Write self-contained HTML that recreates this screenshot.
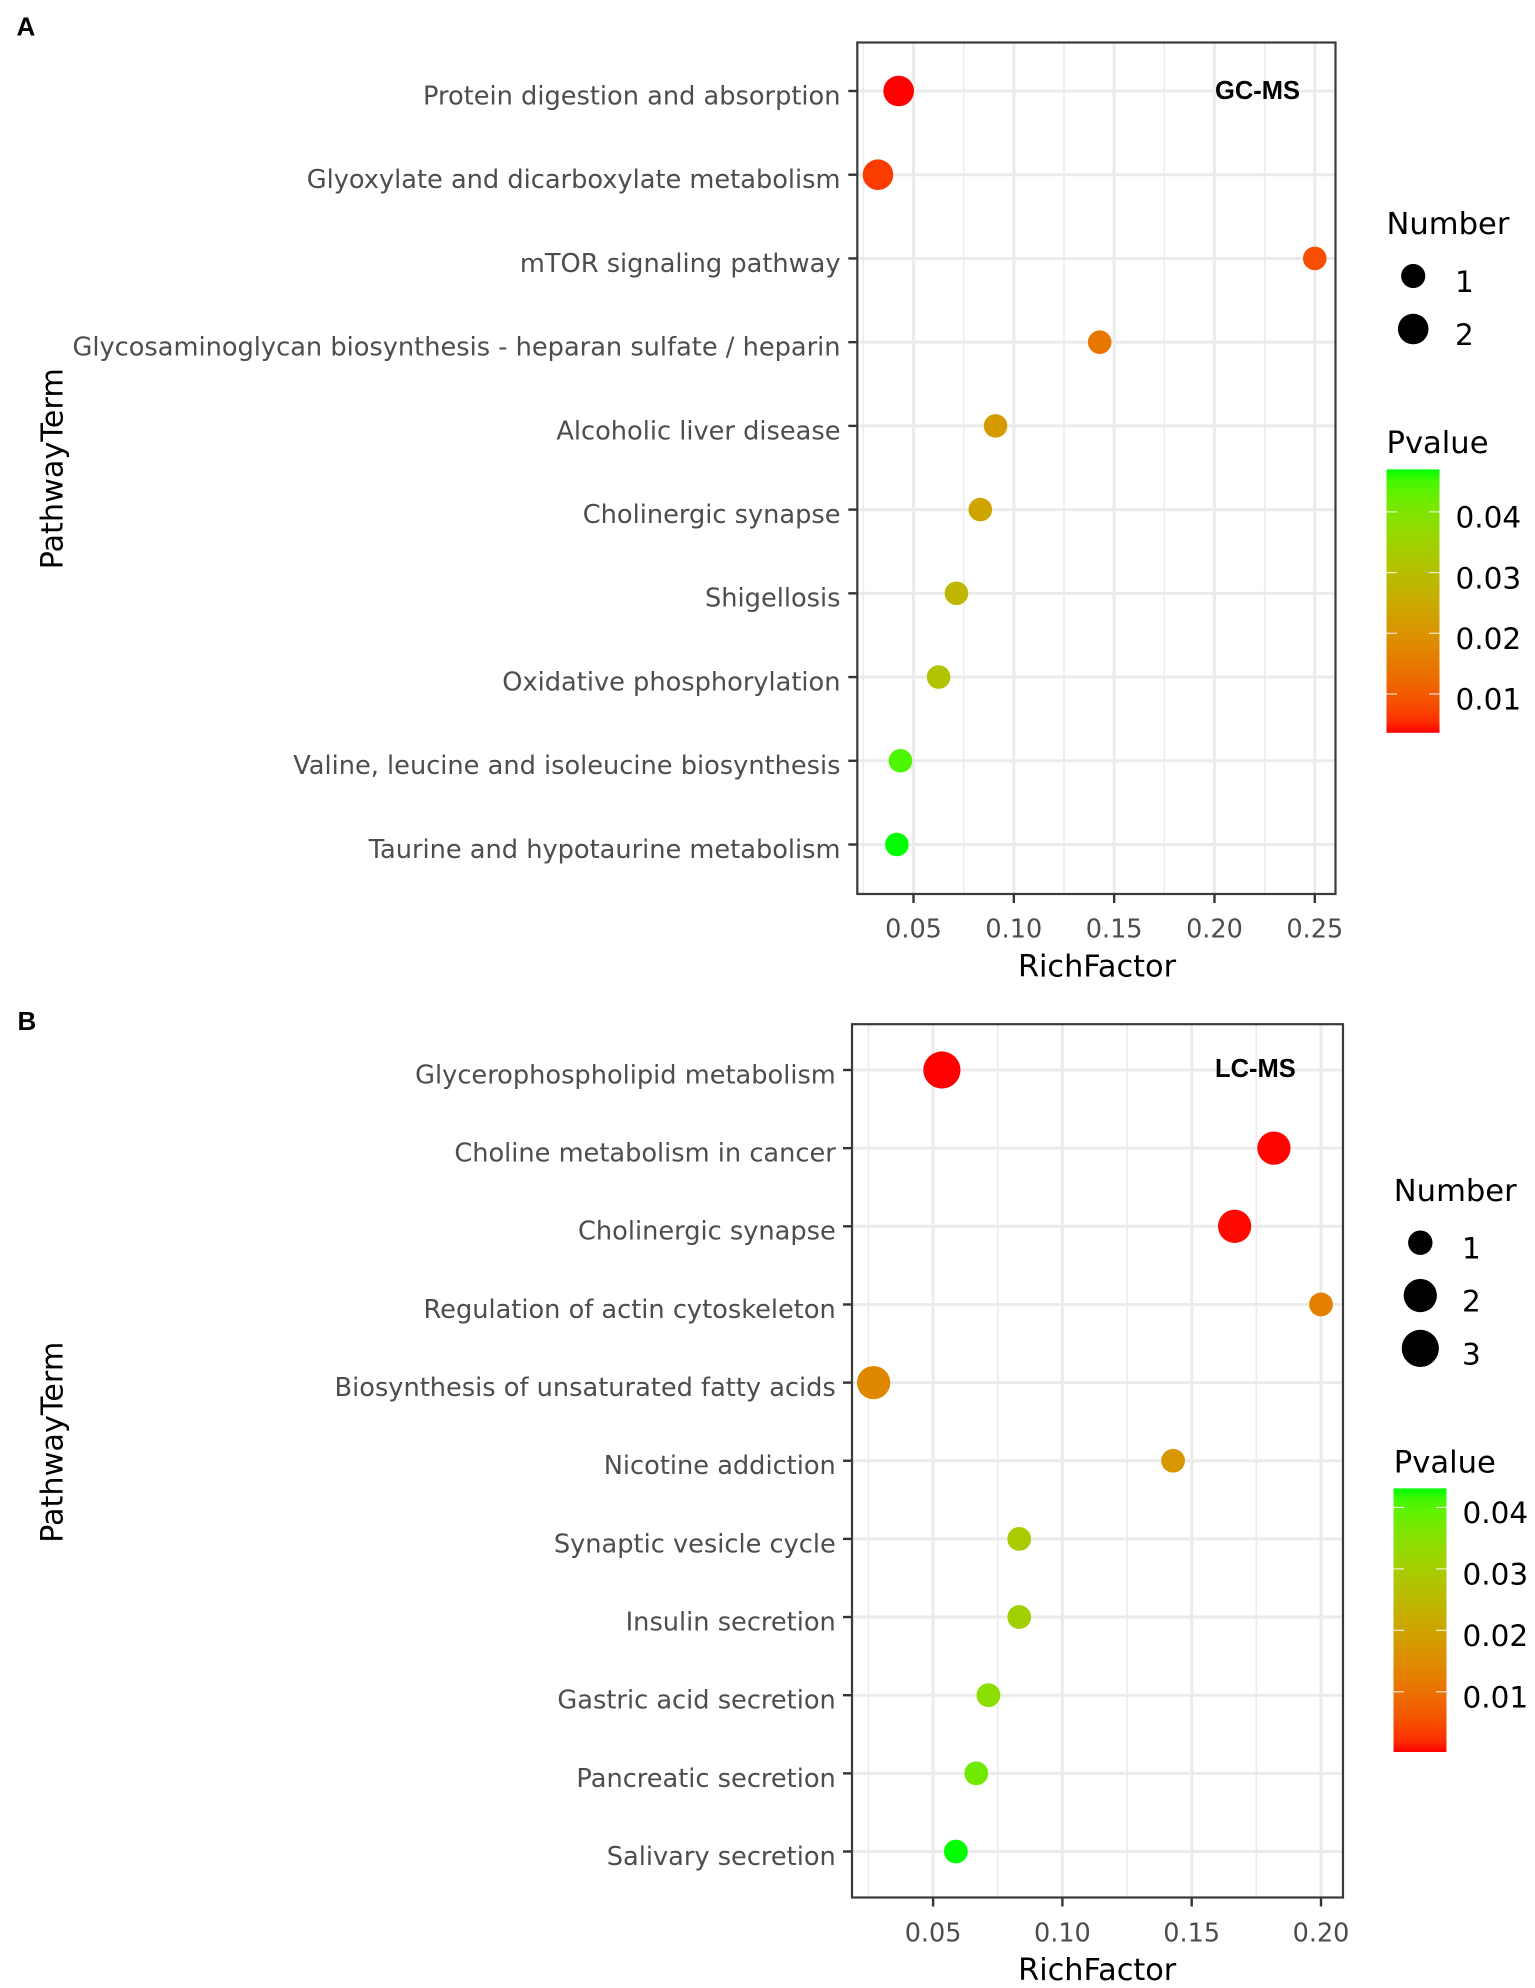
<!DOCTYPE html>
<html lang="en">
<head>
<meta charset="utf-8">
<title>Pathway enrichment bubble charts: GC-MS and LC-MS</title>
<style>
html,body{margin:0;padding:0;background:#fff;}
svg{display:block;}
text{font-family:"DejaVu Sans","Liberation Sans",sans-serif;}
.panel-letter,.method{font-family:"Liberation Sans",sans-serif;font-weight:bold;fill:#000;}
.axis-title,.legend-title{font-size:30.3px;fill:#000;}
.legend-title{font-size:30.6px;}
.legend-label{font-size:29.5px;fill:#000;}
.tick-x{font-size:25.5px;fill:#4d4d4d;text-anchor:middle;}
.tick-y{font-size:25.65px;fill:#4d4d4d;text-anchor:end;}
</style>
</head>
<body>
<svg id="figure" xmlns="http://www.w3.org/2000/svg" width="1535" height="1988" viewBox="0 0 1535 1988">
  <defs id="defs"></defs>
  <rect width="1535" height="1988" fill="#fff"/>
  <g id="panel-a"></g>
  <g id="panel-b"></g>

  <text class="panel-letter" x="16.5" y="35.5" font-size="26">A</text>
  <text class="method" x="1215" y="99" font-size="25.5">GC-MS</text>
  <text class="axis-title" x="1097" y="976.7" text-anchor="middle">RichFactor</text>
  <text class="axis-title" transform="translate(62.5,468.8) rotate(-90)" text-anchor="middle">PathwayTerm</text>
  <text class="legend-title" x="1386.5" y="234">Number</text>
  <text class="legend-title" x="1386.5" y="452.8">Pvalue</text>

  <text class="panel-letter" x="17.5" y="1029.8" font-size="26">B</text>
  <text class="method" x="1215" y="1077.2" font-size="25.5">LC-MS</text>
  <text class="axis-title" x="1097.2" y="1980" text-anchor="middle">RichFactor</text>
  <text class="axis-title" transform="translate(62.5,1442.3) rotate(-90)" text-anchor="middle">PathwayTerm</text>
  <text class="legend-title" x="1393.8" y="1200.8">Number</text>
  <text class="legend-title" x="1393.8" y="1472.6">Pvalue</text>
</svg>

<script>
// ---- Panel A data (GC-MS) ----
const termsA = [
  "Protein digestion and absorption",
  "Glyoxylate and dicarboxylate metabolism",
  "mTOR signaling pathway",
  "Glycosaminoglycan biosynthesis - heparan sulfate / heparin",
  "Alcoholic liver disease",
  "Cholinergic synapse",
  "Shigellosis",
  "Oxidative phosphorylation",
  "Valine, leucine and isoleucine biosynthesis",
  "Taurine and hypotaurine metabolism"
];
const richA = [0.0426, 0.0323, 0.25, 0.1428, 0.0909, 0.0833, 0.0714, 0.0625, 0.0435, 0.0417];
const numberA = [2, 2, 1, 1, 1, 1, 1, 1, 1, 1];
const pvalueA = [0.0036, 0.0065, 0.0085, 0.0145, 0.0215, 0.0235, 0.028, 0.031, 0.0445, 0.047];
const xMajorA = [0.05, 0.10, 0.15, 0.20, 0.25];
const xMinorA = [0.025, 0.075, 0.125, 0.175, 0.225];
const xLabelsA = ["0.05", "0.10", "0.15", "0.20", "0.25"];
const numberLevelsA = [1, 2];
const pTicksA = [0.04, 0.03, 0.02, 0.01];
const pLabelsA = ["0.04", "0.03", "0.02", "0.01"];

// ---- Panel B data (LC-MS) ----
const termsB = [
  "Glycerophospholipid metabolism",
  "Choline metabolism in cancer",
  "Cholinergic synapse",
  "Regulation of actin cytoskeleton",
  "Biosynthesis of unsaturated fatty acids",
  "Nicotine addiction",
  "Synaptic vesicle cycle",
  "Insulin secretion",
  "Gastric acid secretion",
  "Pancreatic secretion",
  "Salivary secretion"
];
const richB = [0.0534, 0.1818, 0.1666, 0.2, 0.027, 0.1428, 0.0833, 0.0833, 0.0714, 0.0667, 0.0588];
const numberB = [3, 2, 2, 1, 2, 1, 1, 1, 1, 1, 1];
const pvalueB = [0.0002, 0.0003, 0.0004, 0.0125, 0.014, 0.017, 0.0295, 0.0305, 0.0345, 0.0375, 0.0431];
const xMajorB = [0.05, 0.10, 0.15, 0.20];
const xMinorB = [0.025, 0.075, 0.125, 0.175];
const xLabelsB = ["0.05", "0.10", "0.15", "0.20"];
const numberLevelsB = [1, 2, 3];
const pTicksB = [0.04, 0.03, 0.02, 0.01];
const pLabelsB = ["0.04", "0.03", "0.02", "0.01"];

const NS = 'http://www.w3.org/2000/svg';

function linear(d0, d1, r0, r1) {
  return function (v) { return r0 + (v - d0) * (r1 - r0) / (d1 - d0); };
}
function node(parent, tag, attrs, txt) {
  const el = document.createElementNS(NS, tag);
  for (const k in attrs) el.setAttribute(k, attrs[k]);
  if (txt !== undefined) el.textContent = txt;
  parent.appendChild(el);
  return el;
}

// Lab-space red -> green colour ramp (same idea as ggplot's gradient)
function toLab(c) {
  const f = c.map(function (v) { v /= 255; return v > 0.04045 ? Math.pow((v + 0.055) / 1.055, 2.4) : v / 12.92; });
  const X = (0.4124 * f[0] + 0.3576 * f[1] + 0.1805 * f[2]) / 0.95047;
  const Y = 0.2126 * f[0] + 0.7152 * f[1] + 0.0722 * f[2];
  const Z = (0.0193 * f[0] + 0.1192 * f[1] + 0.9505 * f[2]) / 1.08883;
  const g = function (t) { return t > 0.008856 ? Math.cbrt(t) : 7.787 * t + 16 / 116; };
  return [116 * g(Y) - 16, 500 * (g(X) - g(Y)), 200 * (g(Y) - g(Z))];
}
function fromLab(l) {
  const fy = (l[0] + 16) / 116, fx = fy + l[1] / 500, fz = fy - l[2] / 200;
  const h = function (t) { return t * t * t > 0.008856 ? t * t * t : (t - 16 / 116) / 7.787; };
  const X = h(fx) * 0.95047, Y = h(fy), Z = h(fz) * 1.08883;
  const rgb = [3.2406 * X - 1.5372 * Y - 0.4986 * Z, -0.9689 * X + 1.8758 * Y + 0.0415 * Z, 0.0557 * X - 0.204 * Y + 1.057 * Z];
  return 'rgb(' + rgb.map(function (v) {
    v = Math.max(0, Math.min(1, v));
    v = v <= 0.0031308 ? 12.92 * v : 1.055 * Math.pow(v, 1 / 2.4) - 0.055;
    return Math.round(v * 255);
  }).join(',') + ')';
}
const LOW = toLab([255, 0, 0]);
const HIGH = toLab([0, 255, 0]);
function ramp(t) {
  t = Math.max(0, Math.min(1, t));
  return fromLab([0, 1, 2].map(function (i) { return LOW[i] + (HIGH[i] - LOW[i]) * t; }));
}

function drawPanel(cfg) {
  const g = document.getElementById('panel-' + cfg.id);
  const pre = 'panel-' + cfg.id + '-';
  const f = cfg.frame;
  const xs = linear(0.05, cfg.x2Val, cfg.x05, cfg.x2Px);
  const ys = linear(0, cfg.terms.length - 1, cfg.yFirst, cfg.yLast);
  const pToT = linear(cfg.pMin, cfg.pMax, 0, 1);
  const radius = function (n) {
    return cfg.rMin + (cfg.rMax - cfg.rMin) * Math.sqrt((n - 1) / (cfg.nMax - 1));
  };

  cfg.xMinor.forEach(function (v) {
    const el = node(g, 'line', { x1: xs(v), x2: xs(v), y1: f.top, y2: f.bottom, stroke: '#ececec', 'stroke-width': 1.6 });
    
    
  });
  cfg.xMajor.forEach(function (v) {
    const el = node(g, 'line', { x1: xs(v), x2: xs(v), y1: f.top, y2: f.bottom, stroke: '#ebebeb', 'stroke-width': 3 });
    
    
  });
  cfg.terms.forEach(function (t, i) {
    const line = node(g, 'line', { x1: f.left, x2: f.right, y1: ys(i), y2: ys(i), stroke: '#ebebeb', 'stroke-width': 3 });
    
    
    const tick = node(g, 'line', { x1: f.left - 9, x2: f.left, y1: ys(i), y2: ys(i), stroke: '#333', 'stroke-width': 2.4 });
    
    
    const label = node(g, 'text', { 'class': 'tick-y', x: cfg.labelRight, y: ys(i) + 13.4 }, t);
    
    
  });
  cfg.xMajor.forEach(function (v, i) {
    const tick = node(g, 'line', { x1: xs(v), x2: xs(v), y1: f.bottom, y2: f.bottom + 9, stroke: '#333', 'stroke-width': 2.4 });
    
    
    const label = node(g, 'text', { 'class': 'tick-x', x: xs(v), y: cfg.xLabelY }, cfg.xLabels[i]);
    
    
  });
  cfg.terms.forEach(function (t, i) {
    const dot = node(g, 'circle', { cx: xs(cfg.rich[i]), cy: ys(i), r: radius(cfg.number[i]), fill: ramp(pToT(cfg.pvalue[i])) });
    
    
  });
  const frame = node(g, 'rect', { x: f.left, y: f.top, width: f.right - f.left, height: f.bottom - f.top, fill: 'none', stroke: '#3a3a3a', 'stroke-width': 2.2 });
  
  

  // Number legend
  const L = cfg.legend;
  const keyY = linear(cfg.numberLevels[0], cfg.numberLevels[cfg.numberLevels.length - 1], L.keyFirst, L.keyLast);
  cfg.numberLevels.forEach(function (n) {
    const key = node(g, 'circle', { cx: L.keyX, cy: keyY(n), r: radius(n) + (n === 1 ? 0.3 : 0), fill: '#000' });
    
    
    const lab = node(g, 'text', { 'class': 'legend-label', x: L.keyLabelX, y: keyY(n) + 16 }, String(n));
    
    
  });

  // Pvalue colour bar
  const defs = document.getElementById('defs');
  const grad = node(defs, 'linearGradient', { id: pre + 'grad', x1: 0, y1: 1, x2: 0, y2: 0 });
  for (let s = 0; s <= 24; s++) {
    node(grad, 'stop', { offset: s / 24, 'stop-color': ramp(s / 24) });
  }
  const bar = node(g, 'rect', { x: L.barLeft, y: L.barTop, width: L.barRight - L.barLeft, height: L.barBottom - L.barTop, fill: 'url(#' + pre + 'grad)' });
  
  
  const pY = linear(cfg.pMin, cfg.pMax, L.barBottom, L.barTop);
  cfg.pTicks.forEach(function (p, i) {
    const tl = node(g, 'line', { x1: L.barLeft, x2: L.barLeft + 10.5, y1: pY(p), y2: pY(p), stroke: '#fff', 'stroke-width': 1.2, 'stroke-opacity': 0.8 });
    
    
    const tr = node(g, 'line', { x1: L.barRight - 10.5, x2: L.barRight, y1: pY(p), y2: pY(p), stroke: '#fff', 'stroke-width': 1.2, 'stroke-opacity': 0.8 });
    
    
    const lab = node(g, 'text', { 'class': 'legend-label', x: L.barLabelX, y: pY(p) + 15.7 }, cfg.pLabels[i]);
    
    
  });
}

drawPanel({
  id: 'a', terms: termsA, rich: richA, number: numberA, pvalue: pvalueA,
  xMajor: xMajorA, xMinor: xMinorA, xLabels: xLabelsA,
  numberLevels: numberLevelsA, pTicks: pTicksA, pLabels: pLabelsA,
  frame: { left: 857.3, right: 1335.5, top: 42.5, bottom: 894 },
  x05: 913.5, x2Val: 0.25, x2Px: 1314.8, yFirst: 91, yLast: 844.5,
  labelRight: 840.5, xLabelY: 937.5, rMin: 11.8, rMax: 15.3, nMax: 2, pMin: 0.0036, pMax: 0.047,
  legend: { keyX: 1413.2, keyFirst: 276, keyLast: 329, keyLabelX: 1455,
            barLeft: 1386.5, barRight: 1439.5, barTop: 469.4, barBottom: 732.8, barLabelX: 1455.5 }
});

drawPanel({
  id: 'b', terms: termsB, rich: richB, number: numberB, pvalue: pvalueB,
  xMajor: xMajorB, xMinor: xMinorB, xLabels: xLabelsB,
  numberLevels: numberLevelsB, pTicks: pTicksB, pLabels: pLabelsB,
  frame: { left: 852, right: 1343, top: 1024.2, bottom: 1897.5 },
  x05: 933.1, x2Val: 0.20, x2Px: 1321, yFirst: 1070, yLast: 1851.5,
  labelRight: 835.8, xLabelY: 1941.6, rMin: 11.9, rMax: 18.6, nMax: 3, pMin: 0.0002, pMax: 0.0431,
  legend: { keyX: 1420.3, keyFirst: 1242.7, keyLast: 1348.4, keyLabelX: 1462,
            barLeft: 1393.5, barRight: 1446.5, barTop: 1488.4, barBottom: 1752, barLabelX: 1462.5 }
});
</script>
</body>
</html>
